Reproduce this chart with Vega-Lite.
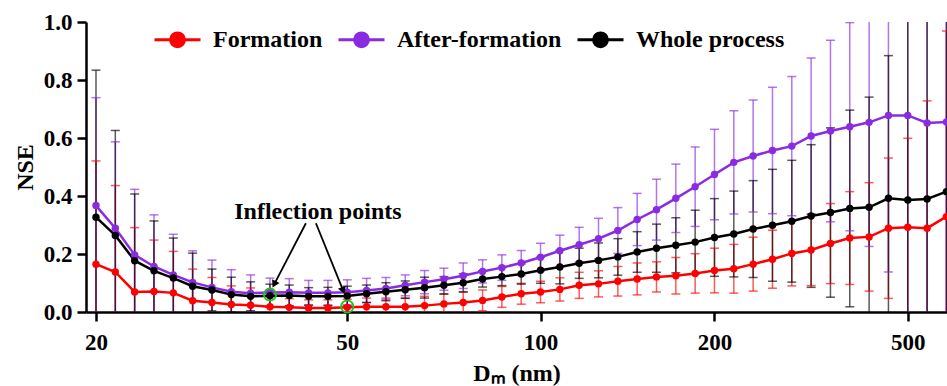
{
  "$schema": "https://vega.github.io/schema/vega-lite/v6.json",
  "autosize": {"type": "none"},
  "width": 861,
  "height": 290,
  "padding": {"left": 86, "top": 22, "right": 0, "bottom": 74},
  "background": "white",
  "config": {
    "view": {"stroke": null},
    "axis": {
      "domainColor": "black", "domainWidth": 2.5, "tickColor": "black", "tickWidth": 2.5, "tickSize": 9,
      "labelFont": "Liberation Serif", "labelFontWeight": "bold", "labelFontSize": 23, "labelColor": "black",
      "titleFont": "Liberation Serif", "titleFontWeight": "bold", "titleFontSize": 24, "titleColor": "black",
      "grid": false
    },
    "legend": {
      "symbolType": "M-1,0L1,0M-0.3,0A0.3,0.3,0,1,1,0.3,0A0.3,0.3,0,1,1,-0.3,0Z",
      "symbolSize": 2116, "symbolStrokeWidth": 3,
      "labelFont": "Liberation Serif", "labelFontSize": 24, "labelFontWeight": "bold", "labelColor": "black",
      "labelOffset": 11, "columnPadding": 9, "symbolOpacity": 1, "labelLimit": 0
    }
  },
  "datasets": {
    "nse": [
      {"i":0,"Dm":20,"s":"Formation","v":0.165,"lo":-0.191,"hi":0.521},
      {"i":1,"Dm":21.5,"s":"Formation","v":0.138,"lo":-0.16,"hi":0.436},
      {"i":2,"Dm":23,"s":"Formation","v":0.069,"lo":-0.153,"hi":0.291},
      {"i":3,"Dm":24.7,"s":"Formation","v":0.071,"lo":-0.106,"hi":0.248},
      {"i":4,"Dm":26.5,"s":"Formation","v":0.066,"lo":-0.077,"hi":0.209},
      {"i":5,"Dm":28.4,"s":"Formation","v":0.039,"lo":-0.07,"hi":0.148},
      {"i":6,"Dm":30.5,"s":"Formation","v":0.033,"lo":-0.053,"hi":0.119},
      {"i":7,"Dm":32.7,"s":"Formation","v":0.026,"lo":-0.038,"hi":0.09},
      {"i":8,"Dm":35.1,"s":"Formation","v":0.023,"lo":-0.037,"hi":0.083},
      {"i":9,"Dm":37.7,"s":"Formation","v":0.018,"lo":-0.017,"hi":0.053},
      {"i":10,"Dm":40.4,"s":"Formation","v":0.016,"lo":-0.014,"hi":0.046},
      {"i":11,"Dm":43.4,"s":"Formation","v":0.014,"lo":-0.014,"hi":0.042},
      {"i":12,"Dm":46.6,"s":"Formation","v":0.014,"lo":-0.014,"hi":0.042},
      {"i":13,"Dm":50,"s":"Formation","v":0.016,"lo":-0.012,"hi":0.044},
      {"i":14,"Dm":53.6,"s":"Formation","v":0.018,"lo":-0.012,"hi":0.048},
      {"i":15,"Dm":57.4,"s":"Formation","v":0.018,"lo":-0.012,"hi":0.048},
      {"i":16,"Dm":61.6,"s":"Formation","v":0.018,"lo":-0.012,"hi":0.048},
      {"i":17,"Dm":66,"s":"Formation","v":0.022,"lo":-0.01,"hi":0.054},
      {"i":18,"Dm":70.7,"s":"Formation","v":0.028,"lo":-0.006,"hi":0.062},
      {"i":19,"Dm":75.8,"s":"Formation","v":0.033,"lo":-0.002,"hi":0.068},
      {"i":20,"Dm":81.2,"s":"Formation","v":0.04,"lo":0.004,"hi":0.076},
      {"i":21,"Dm":87.1,"s":"Formation","v":0.052,"lo":0.016,"hi":0.088},
      {"i":22,"Dm":93.3,"s":"Formation","v":0.063,"lo":0.027,"hi":0.099},
      {"i":23,"Dm":100,"s":"Formation","v":0.069,"lo":0.032,"hi":0.106},
      {"i":24,"Dm":108,"s":"Formation","v":0.078,"lo":0.038,"hi":0.118},
      {"i":25,"Dm":116.7,"s":"Formation","v":0.092,"lo":0.047,"hi":0.137},
      {"i":26,"Dm":126,"s":"Formation","v":0.097,"lo":0.052,"hi":0.142},
      {"i":27,"Dm":136.1,"s":"Formation","v":0.106,"lo":0.055,"hi":0.157},
      {"i":28,"Dm":147,"s":"Formation","v":0.114,"lo":0.059,"hi":0.169},
      {"i":29,"Dm":158.7,"s":"Formation","v":0.121,"lo":0.069,"hi":0.173},
      {"i":30,"Dm":171.5,"s":"Formation","v":0.125,"lo":0.062,"hi":0.188},
      {"i":31,"Dm":185.2,"s":"Formation","v":0.133,"lo":0.065,"hi":0.201},
      {"i":32,"Dm":200,"s":"Formation","v":0.143,"lo":0.066,"hi":0.22},
      {"i":33,"Dm":219.2,"s":"Formation","v":0.149,"lo":0.065,"hi":0.233},
      {"i":34,"Dm":240.2,"s":"Formation","v":0.165,"lo":0.072,"hi":0.258},
      {"i":35,"Dm":263.2,"s":"Formation","v":0.182,"lo":0.082,"hi":0.282},
      {"i":36,"Dm":288.5,"s":"Formation","v":0.202,"lo":0.09,"hi":0.314},
      {"i":37,"Dm":316.2,"s":"Formation","v":0.214,"lo":0.091,"hi":0.337},
      {"i":38,"Dm":346.5,"s":"Formation","v":0.236,"lo":0.098,"hi":0.374},
      {"i":39,"Dm":379.8,"s":"Formation","v":0.255,"lo":0.095,"hi":0.415},
      {"i":40,"Dm":416.2,"s":"Formation","v":0.259,"lo":0.072,"hi":0.446},
      {"i":41,"Dm":456.1,"s":"Formation","v":0.289,"lo":0.047,"hi":0.531},
      {"i":42,"Dm":500,"s":"Formation","v":0.292,"lo":-0.015,"hi":0.599},
      {"i":43,"Dm":548,"s":"Formation","v":0.289,"lo":-0.15,"hi":0.728},
      {"i":44,"Dm":600,"s":"Formation","v":0.329,"lo":-0.311,"hi":0.969},

      {"i":0,"Dm":20,"s":"After-formation","v":0.367,"lo":-0.005,"hi":0.739},
      {"i":1,"Dm":21.5,"s":"After-formation","v":0.289,"lo":-0.009,"hi":0.587},
      {"i":2,"Dm":23,"s":"After-formation","v":0.197,"lo":-0.029,"hi":0.423},
      {"i":3,"Dm":24.7,"s":"After-formation","v":0.157,"lo":-0.021,"hi":0.335},
      {"i":4,"Dm":26.5,"s":"After-formation","v":0.128,"lo":-0.012,"hi":0.268},
      {"i":5,"Dm":28.4,"s":"After-formation","v":0.102,"lo":-0.007,"hi":0.211},
      {"i":6,"Dm":30.5,"s":"After-formation","v":0.085,"lo":-0.009,"hi":0.179},
      {"i":7,"Dm":32.7,"s":"After-formation","v":0.07,"lo":-0.006,"hi":0.146},
      {"i":8,"Dm":35.1,"s":"After-formation","v":0.065,"lo":0.002,"hi":0.128},
      {"i":9,"Dm":37.7,"s":"After-formation","v":0.067,"lo":0.017,"hi":0.117},
      {"i":10,"Dm":40.4,"s":"After-formation","v":0.068,"lo":0.021,"hi":0.115},
      {"i":11,"Dm":43.4,"s":"After-formation","v":0.066,"lo":0.023,"hi":0.109},
      {"i":12,"Dm":46.6,"s":"After-formation","v":0.066,"lo":0.023,"hi":0.109},
      {"i":13,"Dm":50,"s":"After-formation","v":0.068,"lo":0.025,"hi":0.111},
      {"i":14,"Dm":53.6,"s":"After-formation","v":0.074,"lo":0.032,"hi":0.116},
      {"i":15,"Dm":57.4,"s":"After-formation","v":0.081,"lo":0.043,"hi":0.119},
      {"i":16,"Dm":61.6,"s":"After-formation","v":0.092,"lo":0.056,"hi":0.128},
      {"i":17,"Dm":66,"s":"After-formation","v":0.103,"lo":0.063,"hi":0.143},
      {"i":18,"Dm":70.7,"s":"After-formation","v":0.113,"lo":0.075,"hi":0.151},
      {"i":19,"Dm":75.8,"s":"After-formation","v":0.125,"lo":0.081,"hi":0.169},
      {"i":20,"Dm":81.2,"s":"After-formation","v":0.14,"lo":0.1,"hi":0.18},
      {"i":21,"Dm":87.1,"s":"After-formation","v":0.153,"lo":0.109,"hi":0.197},
      {"i":22,"Dm":93.3,"s":"After-formation","v":0.169,"lo":0.126,"hi":0.212},
      {"i":23,"Dm":100,"s":"After-formation","v":0.189,"lo":0.141,"hi":0.237},
      {"i":24,"Dm":108,"s":"After-formation","v":0.211,"lo":0.157,"hi":0.265},
      {"i":25,"Dm":116.7,"s":"After-formation","v":0.232,"lo":0.172,"hi":0.292},
      {"i":26,"Dm":126,"s":"After-formation","v":0.253,"lo":0.183,"hi":0.323},
      {"i":27,"Dm":136.1,"s":"After-formation","v":0.281,"lo":0.202,"hi":0.36},
      {"i":28,"Dm":147,"s":"After-formation","v":0.319,"lo":0.229,"hi":0.409},
      {"i":29,"Dm":158.7,"s":"After-formation","v":0.353,"lo":0.248,"hi":0.458},
      {"i":30,"Dm":171.5,"s":"After-formation","v":0.392,"lo":0.274,"hi":0.51},
      {"i":31,"Dm":185.2,"s":"After-formation","v":0.432,"lo":0.295,"hi":0.569},
      {"i":32,"Dm":200,"s":"After-formation","v":0.474,"lo":0.318,"hi":0.63},
      {"i":33,"Dm":219.2,"s":"After-formation","v":0.516,"lo":0.338,"hi":0.694},
      {"i":34,"Dm":240.2,"s":"After-formation","v":0.538,"lo":0.345,"hi":0.731},
      {"i":35,"Dm":263.2,"s":"After-formation","v":0.557,"lo":0.339,"hi":0.775},
      {"i":36,"Dm":288.5,"s":"After-formation","v":0.572,"lo":0.332,"hi":0.812},
      {"i":37,"Dm":316.2,"s":"After-formation","v":0.607,"lo":0.338,"hi":0.876},
      {"i":38,"Dm":346.5,"s":"After-formation","v":0.624,"lo":0.311,"hi":0.937},
      {"i":39,"Dm":379.8,"s":"After-formation","v":0.639,"lo":0.28,"hi":0.998},
      {"i":40,"Dm":416.2,"s":"After-formation","v":0.654,"lo":0.226,"hi":1.082},
      {"i":41,"Dm":456.1,"s":"After-formation","v":0.678,"lo":0.138,"hi":1.218},
      {"i":42,"Dm":500,"s":"After-formation","v":0.678,"lo":-0.072,"hi":1.428},
      {"i":43,"Dm":548,"s":"After-formation","v":0.652,"lo":-0.148,"hi":1.452},
      {"i":44,"Dm":600,"s":"After-formation","v":0.655,"lo":-0.145,"hi":1.455},

      {"i":0,"Dm":20,"s":"Whole process","v":0.327,"lo":-0.18,"hi":0.834},
      {"i":1,"Dm":21.5,"s":"Whole process","v":0.264,"lo":-0.098,"hi":0.626},
      {"i":2,"Dm":23,"s":"Whole process","v":0.177,"lo":-0.053,"hi":0.407},
      {"i":3,"Dm":24.7,"s":"Whole process","v":0.142,"lo":-0.03,"hi":0.314},
      {"i":4,"Dm":26.5,"s":"Whole process","v":0.117,"lo":-0.021,"hi":0.255},
      {"i":5,"Dm":28.4,"s":"Whole process","v":0.089,"lo":-0.025,"hi":0.203},
      {"i":6,"Dm":30.5,"s":"Whole process","v":0.076,"lo":0.004,"hi":0.148},
      {"i":7,"Dm":32.7,"s":"Whole process","v":0.06,"lo":0,"hi":0.12},
      {"i":8,"Dm":35.1,"s":"Whole process","v":0.054,"lo":0.004,"hi":0.104},
      {"i":9,"Dm":37.7,"s":"Whole process","v":0.056,"lo":0.016,"hi":0.096},
      {"i":10,"Dm":40.4,"s":"Whole process","v":0.057,"lo":0.021,"hi":0.093},
      {"i":11,"Dm":43.4,"s":"Whole process","v":0.054,"lo":0.024,"hi":0.084},
      {"i":12,"Dm":46.6,"s":"Whole process","v":0.054,"lo":0.023,"hi":0.085},
      {"i":13,"Dm":50,"s":"Whole process","v":0.055,"lo":0.021,"hi":0.089},
      {"i":14,"Dm":53.6,"s":"Whole process","v":0.063,"lo":0.033,"hi":0.093},
      {"i":15,"Dm":57.4,"s":"Whole process","v":0.07,"lo":0.039,"hi":0.101},
      {"i":16,"Dm":61.6,"s":"Whole process","v":0.077,"lo":0.047,"hi":0.107},
      {"i":17,"Dm":66,"s":"Whole process","v":0.084,"lo":0.048,"hi":0.12},
      {"i":18,"Dm":70.7,"s":"Whole process","v":0.092,"lo":0.062,"hi":0.122},
      {"i":19,"Dm":75.8,"s":"Whole process","v":0.101,"lo":0.07,"hi":0.132},
      {"i":20,"Dm":81.2,"s":"Whole process","v":0.114,"lo":0.086,"hi":0.142},
      {"i":21,"Dm":87.1,"s":"Whole process","v":0.122,"lo":0.091,"hi":0.153},
      {"i":22,"Dm":93.3,"s":"Whole process","v":0.131,"lo":0.096,"hi":0.166},
      {"i":23,"Dm":100,"s":"Whole process","v":0.144,"lo":0.099,"hi":0.189},
      {"i":24,"Dm":108,"s":"Whole process","v":0.155,"lo":0.097,"hi":0.213},
      {"i":25,"Dm":116.7,"s":"Whole process","v":0.168,"lo":0.116,"hi":0.22},
      {"i":26,"Dm":126,"s":"Whole process","v":0.178,"lo":0.118,"hi":0.238},
      {"i":27,"Dm":136.1,"s":"Whole process","v":0.19,"lo":0.127,"hi":0.253},
      {"i":28,"Dm":147,"s":"Whole process","v":0.207,"lo":0.137,"hi":0.277},
      {"i":29,"Dm":158.7,"s":"Whole process","v":0.22,"lo":0.137,"hi":0.303},
      {"i":30,"Dm":171.5,"s":"Whole process","v":0.23,"lo":0.135,"hi":0.325},
      {"i":31,"Dm":185.2,"s":"Whole process","v":0.241,"lo":0.131,"hi":0.351},
      {"i":32,"Dm":200,"s":"Whole process","v":0.257,"lo":0.123,"hi":0.391},
      {"i":33,"Dm":219.2,"s":"Whole process","v":0.269,"lo":0.121,"hi":0.417},
      {"i":34,"Dm":240.2,"s":"Whole process","v":0.286,"lo":0.119,"hi":0.453},
      {"i":35,"Dm":263.2,"s":"Whole process","v":0.299,"lo":0.106,"hi":0.492},
      {"i":36,"Dm":288.5,"s":"Whole process","v":0.313,"lo":0.103,"hi":0.523},
      {"i":37,"Dm":316.2,"s":"Whole process","v":0.331,"lo":0.085,"hi":0.577},
      {"i":38,"Dm":346.5,"s":"Whole process","v":0.343,"lo":0.051,"hi":0.635},
      {"i":39,"Dm":379.8,"s":"Whole process","v":0.357,"lo":0.018,"hi":0.696},
      {"i":40,"Dm":416.2,"s":"Whole process","v":0.361,"lo":-0.019,"hi":0.741},
      {"i":41,"Dm":456.1,"s":"Whole process","v":0.392,"lo":-0.1,"hi":0.884},
      {"i":42,"Dm":500,"s":"Whole process","v":0.386,"lo":-0.274,"hi":1.046},
      {"i":43,"Dm":548,"s":"Whole process","v":0.39,"lo":-0.27,"hi":1.05},
      {"i":44,"Dm":600,"s":"Whole process","v":0.415,"lo":-0.245,"hi":1.075}
    ]
  },
  "layer": [
    {
      "data": {"name": "nse"},
      "mark": {"type": "rule", "strokeWidth": 1.5, "opacity": 0.65, "clip": true},
      "encoding": {
        "x": {"field": "i", "type": "quantitative", "scale": {"domain": [-0.517, 44.03], "nice": false, "zero": false},
              "axis": {"values": [0, 13, 23, 32, 42], "title": "Dₘ (nm)", "labelPadding": 10, "titlePadding": 7,
                       "labelExpr": "datum.value == 0 ? '20' : datum.value == 13 ? '50' : datum.value == 23 ? '100' : datum.value == 32 ? '200' : '500'"}},
        "y": {"field": "lo", "type": "quantitative", "scale": {"domain": [0, 1], "nice": false},
              "axis": {"values": [0, 0.2, 0.4, 0.6, 0.8, 1.0], "format": ".1f", "title": "NSE", "labelPadding": 5, "titlePadding": 6}},
        "y2": {"field": "hi"},
        "color": {"field": "s", "type": "nominal",
                  "scale": {"domain": ["Formation", "After-formation", "Whole process"], "range": ["#ff0000", "#8a2be2", "#000000"]},
                  "legend": {"title": null, "orient": "none", "legendX": 67, "legendY": -7, "direction": "horizontal",
                             "encode": {"symbols": {"update": {"fill": {"scale": "color", "field": "value"}, "stroke": {"scale": "color", "field": "value"}, "strokeWidth": {"value": 3}, "opacity": {"value": 1}}}}}}
      }
    },
    {
      "data": {"name": "nse"},
      "mark": {"type": "tick", "orient": "horizontal", "size": 9, "thickness": 1.5, "opacity": 0.65, "clip": true},
      "encoding": {
        "x": {"field": "i", "type": "quantitative"},
        "y": {"field": "hi", "type": "quantitative"},
        "color": {"field": "s", "type": "nominal"}
      }
    },
    {
      "data": {"name": "nse"},
      "mark": {"type": "tick", "orient": "horizontal", "size": 9, "thickness": 1.5, "opacity": 0.65, "clip": true},
      "encoding": {
        "x": {"field": "i", "type": "quantitative"},
        "y": {"field": "lo", "type": "quantitative"},
        "color": {"field": "s", "type": "nominal"}
      }
    },
    {
      "data": {"name": "nse"},
      "mark": {"type": "line", "strokeWidth": 2.5, "clip": true, "point": {"filled": true, "size": 55, "opacity": 1}},
      "encoding": {
        "x": {"field": "i", "type": "quantitative"},
        "y": {"field": "v", "type": "quantitative"},
        "color": {"field": "s", "type": "nominal"}
      }
    },
    {
      "data": {"values": [{"i": 9, "v": 0.06}, {"i": 13, "v": 0.019}]},
      "mark": {"type": "point", "shape": "circle", "filled": false, "size": 150, "stroke": "#1fc01f", "strokeWidth": 1.8, "opacity": 1},
      "encoding": {"x": {"field": "i", "type": "quantitative"}, "y": {"field": "v", "type": "quantitative"}}
    },
    {
      "data": {"values": [{"i": 10.86, "v": 0.306, "i2": 9.22, "v2": 0.0953}, {"i": 11.38, "v": 0.306, "i2": 12.79, "v2": 0.0736}]},
      "mark": {"type": "rule", "color": "black", "strokeWidth": 1.8},
      "encoding": {"x": {"field": "i", "type": "quantitative"}, "y": {"field": "v", "type": "quantitative"}, "x2": {"field": "i2"}, "y2": {"field": "v2"}}
    },
    {
      "data": {"values": [{"i": 9.22, "v": 0.0953}]},
      "mark": {"type": "point", "shape": "triangle-up", "filled": true, "color": "black", "size": 70, "angle": 207, "opacity": 1},
      "encoding": {"x": {"field": "i", "type": "quantitative"}, "y": {"field": "v", "type": "quantitative"}}
    },
    {
      "data": {"values": [{"i": 12.79, "v": 0.0736}]},
      "mark": {"type": "point", "shape": "triangle-up", "filled": true, "color": "black", "size": 70, "angle": 158, "opacity": 1},
      "encoding": {"x": {"field": "i", "type": "quantitative"}, "y": {"field": "v", "type": "quantitative"}}
    },
    {
      "data": {"values": [{"i": 11.48, "v": 0.345, "label": "Inflection points"}]},
      "mark": {"type": "text", "font": "Liberation Serif", "fontWeight": "bold", "fontSize": 24, "color": "black", "baseline": "middle", "align": "center"},
      "encoding": {"x": {"field": "i", "type": "quantitative"}, "y": {"field": "v", "type": "quantitative"}, "text": {"field": "label"}}
    }
  ]
}
